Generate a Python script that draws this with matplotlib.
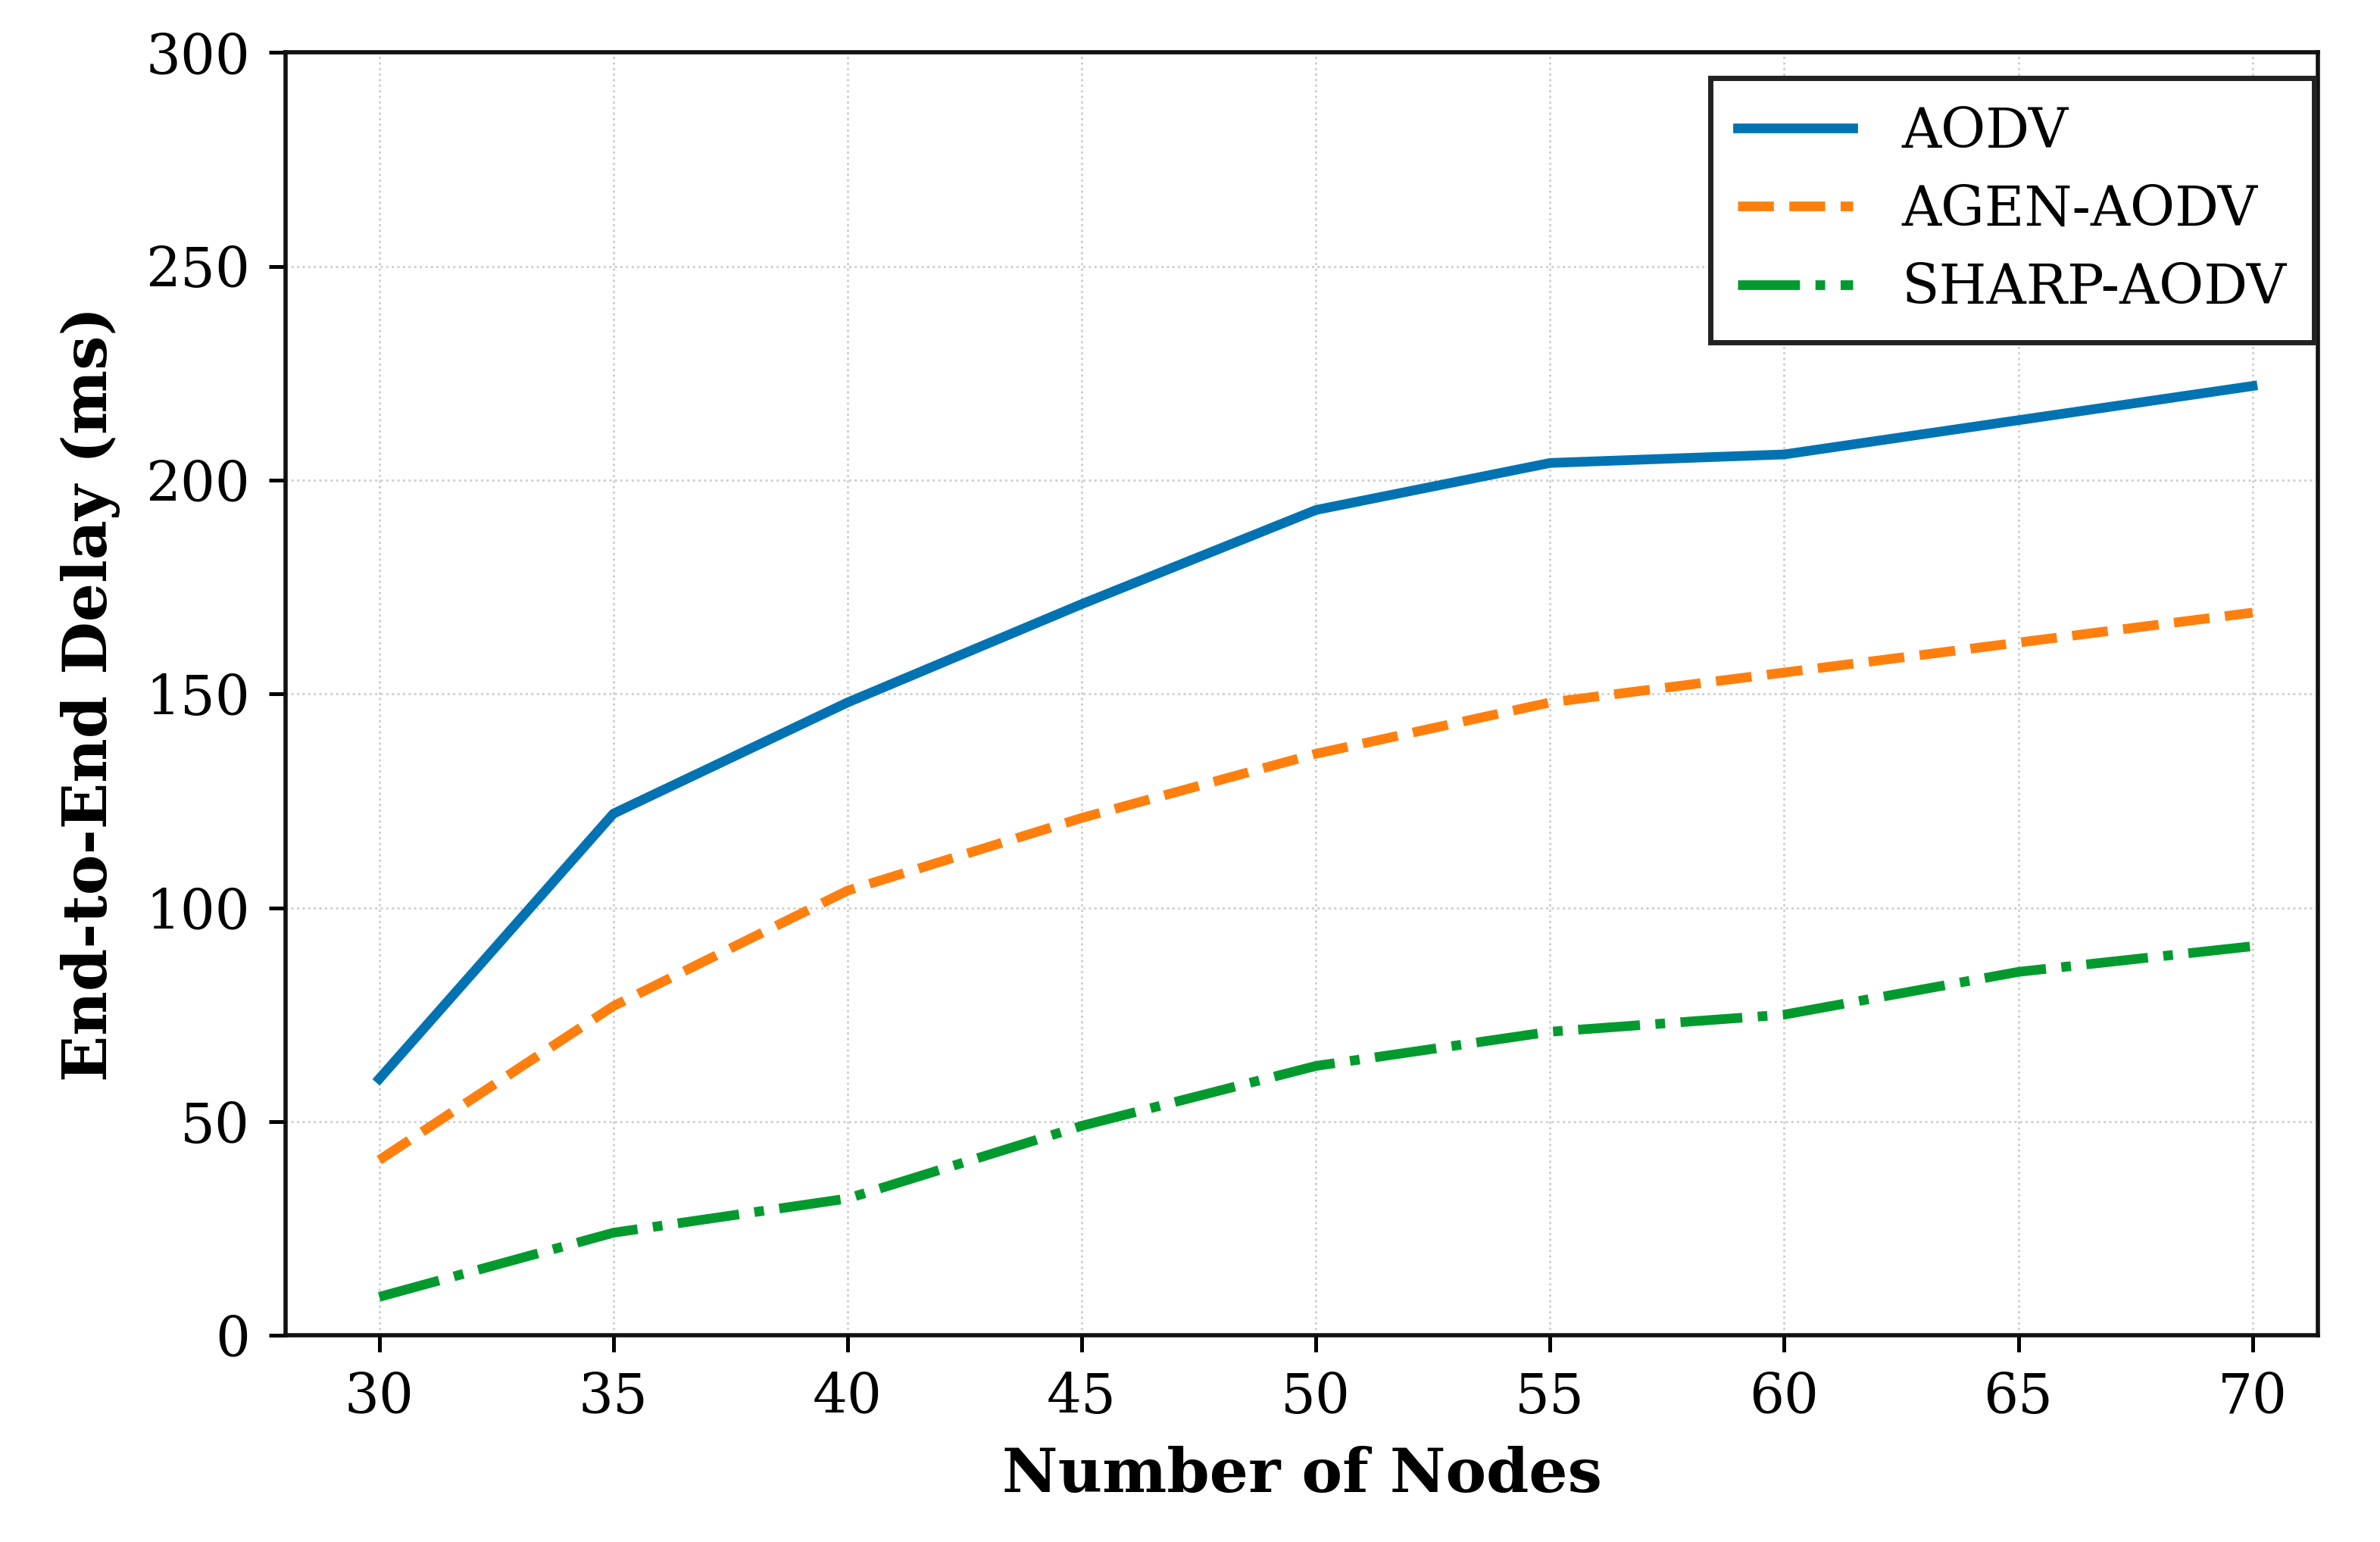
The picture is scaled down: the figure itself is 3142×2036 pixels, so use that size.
import numpy as np
import matplotlib
matplotlib.use("Agg")
import matplotlib.pyplot as plt

nodes = [30, 35, 40, 45, 50, 55, 60, 65, 70]
aodv = [60, 122, 148, 171, 193, 204, 206, 214, 222]
agen_aodv = [41, 77, 104, 121, 136, 148, 155, 162, 169]
sharp_aodv = [9, 24, 32, 49, 63, 71, 75, 85, 91]

labels = ["AODV", "AGEN-AODV", "SHARP-AODV"]
colors = ["#0173B2", "#FF7F0E", "#029A2E"]
styles = ["-", "--", "-."]

plt.rcParams['font.family'] = 'DejaVu Serif'

fig = plt.figure(figsize=(15.71, 10.18), dpi=200)
ax = fig.add_axes([0.12, 0.134, 0.854, 0.832])

for ys, lab, c, ls in zip([aodv, agen_aodv, sharp_aodv], labels, colors, styles):
    ax.plot(nodes, ys, linestyle=ls, color=c, linewidth=4.6, label=lab)

ax.set_xlim(28, 71.4)
ax.set_ylim(0, 300)
ax.set_xticks(nodes)
ax.set_yticks(np.arange(0, 301, 50))
ax.tick_params(axis='both', labelsize=26, length=8, width=1.8, direction='out', pad=9)
ax.grid(True, linestyle=':', color='#cccccc', linewidth=1.0)
for s in ax.spines.values():
    s.set_linewidth(2.0)
    s.set_color('#111111')

ax.set_xlabel("Number of Nodes", fontsize=29, fontweight='bold', labelpad=10)
ax.set_ylabel("End-to-End Delay (ms)", fontsize=29, fontweight='bold', labelpad=12)

leg = ax.legend(loc='upper right', bbox_to_anchor=(0.998, 0.98), borderaxespad=0,
                fontsize=26, fancybox=False, framealpha=1,
                edgecolor='#222222', handlelength=2.1, borderpad=0.5,
                labelspacing=0.45, handletextpad=0.9)
leg.get_frame().set_linewidth(2.5)

plt.savefig("out.png", dpi=200)
plt.close()
